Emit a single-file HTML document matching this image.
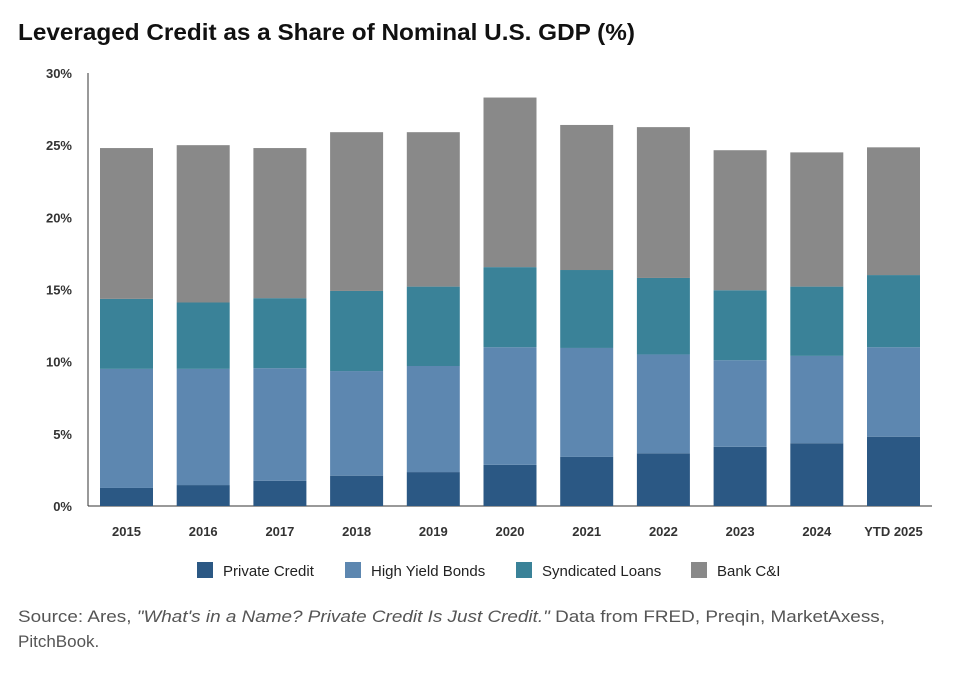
<!DOCTYPE html>
<html><head><meta charset="utf-8"><style>
body{margin:0;background:#fff;width:956px;height:668px;overflow:hidden;font-family:"Liberation Sans",sans-serif;}
</style></head><body>
<svg width="956" height="668" xmlns="http://www.w3.org/2000/svg">
<text x="18" y="40" font-size="23" font-weight="bold" fill="#111" textLength="617" lengthAdjust="spacingAndGlyphs">Leveraged Credit as a Share of Nominal U.S. GDP (%)</text>
<g id="grid"></g>
<g id="bars"></g>
<g id="legend"></g>
<text x="18" y="622" font-size="17" fill="#555" textLength="867" lengthAdjust="spacingAndGlyphs">Source: Ares, <tspan font-style="italic">"What's in a Name? Private Credit Is Just Credit."</tspan> Data from FRED, Preqin, MarketAxess,</text>
<text x="18" y="647" font-size="17" fill="#555">PitchBook.</text>
</svg>
<script>
const categories=["2015","2016","2017","2018","2019","2020","2021","2022","2023","2024","YTD 2025"];
const privateCredit=[1.25,1.45,1.75,2.1,2.35,2.85,3.4,3.65,4.1,4.35,4.8];
const highYield=[8.25,8.05,7.8,7.25,7.35,8.15,7.55,6.85,6.0,6.05,6.2];
const syndicated=[4.85,4.6,4.85,5.55,5.5,5.55,5.4,5.3,4.85,4.8,5.0];
const bankCI=[10.45,10.9,10.4,11.0,10.7,11.75,10.05,10.45,9.7,9.3,8.85];
const yTicks=[0,5,10,15,20,25,30];
const seriesNames=["Private Credit","High Yield Bonds","Syndicated Loans","Bank C&I"];
const colors=["#2b5884","#5d87b0","#3a8298","#898989"];
const NS="http://www.w3.org/2000/svg";
const y0=506,y30=73,x0=88,x1=932;
const yS=v=>y0-(v/30)*(y0-y30);
const step=76.7,bw=53;
const xS=i=>126.5+i*step;
function mk(t,a,p){const e=document.createElementNS(NS,t);for(const k in a)e.setAttribute(k,a[k]);p.appendChild(e);return e;}
const grid=document.getElementById('grid');
yTicks.forEach(v=>{const t=mk('text',{x:72,y:yS(v)+5,'font-size':13,'font-weight':'bold','fill':'#333','text-anchor':'end'},grid);t.textContent=v+'%';

});
const ax=mk('line',{x1:x0,y1:y30,x2:x0,y2:y0,stroke:'#333','stroke-width':1},grid);


const bx=mk('line',{x1:x0,y1:y0,x2:x1,y2:y0,stroke:'#333','stroke-width':1},grid);


const bars=document.getElementById('bars');
const series=[privateCredit,highYield,syndicated,bankCI];
categories.forEach((c,i)=>{let cum=0;
series.forEach((s,j)=>{const top=cum+s[i];
const r=mk('rect',{x:xS(i)-bw/2,y:yS(top),width:bw,height:yS(cum)-yS(top),fill:colors[j]},bars);


cum=top;});
const t=mk('text',{x:xS(i),y:536,'font-size':13,'font-weight':'bold',fill:'#333','text-anchor':'middle'},bars);t.textContent=c;

});
const lg=document.getElementById('legend');
const lx=[197,345,516,691];
seriesNames.forEach((n,j)=>{const g=mk('g',{},lg);


mk('rect',{x:lx[j],y:562,width:16,height:16,fill:colors[j]},g);
const t=mk('text',{x:lx[j]+26,y:576,'font-size':15,fill:'#222'},g);t.textContent=n;});
</script>
</body></html>
